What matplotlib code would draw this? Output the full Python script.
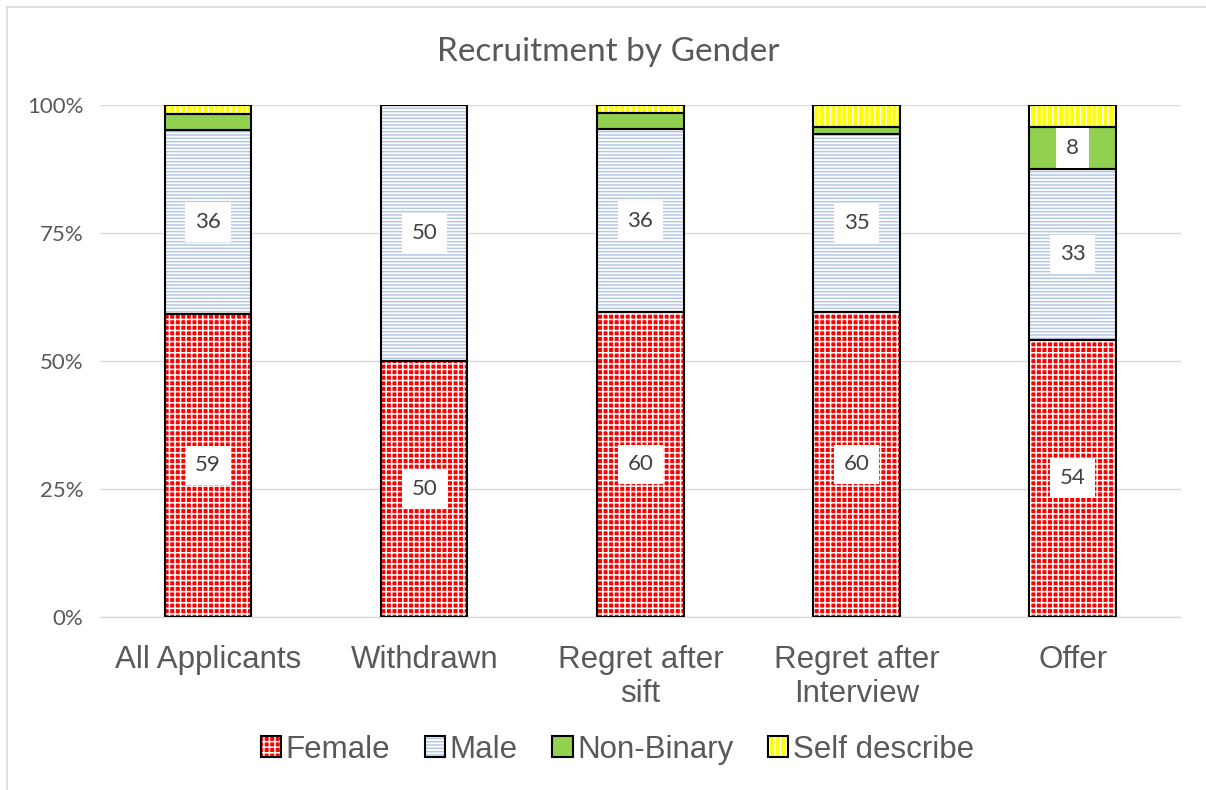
import matplotlib
matplotlib.use("Agg")
import matplotlib.pyplot as plt
import numpy as np
from matplotlib.patches import Patch
from matplotlib.lines import Line2D
from matplotlib.legend_handler import HandlerTuple

categories = ["All Applicants", "Withdrawn", "Regret after\nsift", "Regret after\nInterview", "Offer"]
series_names = ["Female", "Male", "Non-Binary", "Self describe"]
female = [59.2, 50.0, 59.6, 59.6, 54.2]
male = [35.9, 50.0, 35.7, 34.7, 33.3]
non_binary = [3.1, 0.0, 3.1, 1.4, 8.3]
self_describe = [1.8, 0.0, 1.6, 4.3, 4.2]
yticks = [0, 25, 50, 75, 100]
ytick_labels = ["0%", "25%", "50%", "75%", "100%"]

styles = [
    dict(face="#FF0000", hatch="+++", hcolor="white"),
    dict(face="white", hatch="-----", hcolor="#B4C7E7"),
    dict(face="#92D050", hatch=None, hcolor="#92D050"),
    dict(face="#FFFF00", hatch="|||", hcolor="white"),
]

plt.rcParams['hatch.linewidth'] = 1.1
fig = plt.figure(figsize=(12.06, 7.9), dpi=100)
ax = fig.add_axes([0.083, 0.219, 0.896, 0.648])

x = np.arange(len(categories))
width = 0.4
data = [female, male, non_binary, self_describe]
bottom = np.zeros(len(categories))
for vals, st in zip(data, styles):
    vals = np.array(vals)
    ax.bar(x, vals, width, bottom=bottom, color=st["face"], hatch=st["hatch"],
           edgecolor=st["hcolor"], linewidth=0, zorder=2)
    ax.bar(x, vals, width, bottom=bottom, fill=False, edgecolor="black",
           linewidth=1.5, zorder=3)
    for xi, v, b in zip(x, vals, bottom):
        if v >= 5:
            ax.text(xi, b + v / 2, f"{v:.0f}", ha="center", va="center", fontsize=16,
                    color="#404040", family="Lato", zorder=4,
                    bbox=dict(facecolor="white", edgecolor="none", pad=7))
    bottom = bottom + vals

ax.set_xlim(-0.5, 4.5)
ax.set_ylim(0, 100)
ax.set_yticks(yticks)
ax.set_yticklabels(ytick_labels, fontsize=16, color="#595959", family="Lato")
ax.set_xticks(x)
ax.set_xticklabels(categories, fontsize=22.5, color="#595959", family="Liberation Sans",
                   linespacing=1.2)
ax.tick_params(axis="both", length=0)
ax.tick_params(axis="x", pad=20)
ax.tick_params(axis="y", pad=12)
ax.yaxis.grid(True, color="#D9D9D9", linewidth=1, zorder=0)
ax.set_axisbelow(True)
for s in ["top", "right", "left"]:
    ax.spines[s].set_visible(False)
ax.spines["bottom"].set_color("#D9D9D9")
ax.spines["bottom"].set_linewidth(1)

fig.text(0.504, 0.934, "Recruitment by Gender", ha="center", va="center",
         fontsize=24, color="#595959", family="Lato")

handles = []
for st in styles:
    h1 = Patch(facecolor=st["face"], hatch=st["hatch"], edgecolor=st["hcolor"], linewidth=0)
    h2 = Patch(fill=False, edgecolor="black", linewidth=1.5)
    handles.append((h1, h2))
leg = fig.legend(handles, series_names, loc="center", bbox_to_anchor=(0.512, 0.051), ncol=4,
                 frameon=False, prop=dict(family="Liberation Sans", size=22.5),
                 handler_map={tuple: HandlerTuple(ndivide=1, pad=0)},
                 handlelength=0.65, handleheight=0.65, handletextpad=0.15, columnspacing=1.1)
for t in leg.get_texts():
    t.set_color("#595959")

# chart area border (top and left visible)
fig.add_artist(Line2D([0.006, 1.0], [0.991, 0.991], color="#D9D9D9", linewidth=1.2,
                      transform=fig.transFigure))
fig.add_artist(Line2D([0.006, 0.006], [0.0, 0.991], color="#D9D9D9", linewidth=1.2,
                      transform=fig.transFigure))

fig.savefig("out.png", dpi=100)
